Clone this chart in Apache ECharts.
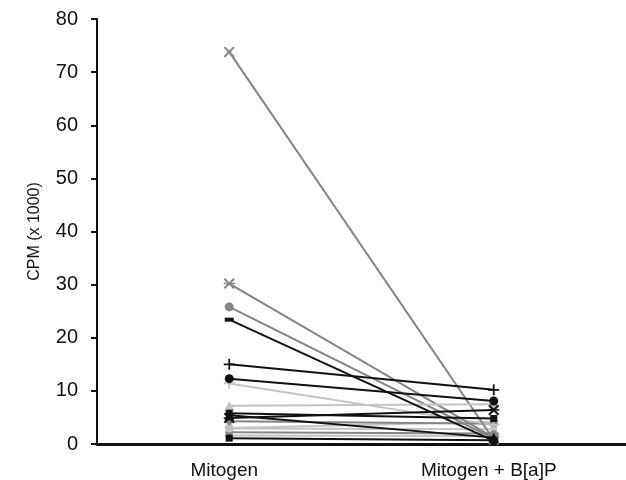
<!DOCTYPE html>
<html>
<head>
<meta charset="utf-8">
<script src="https://cdn.jsdelivr.net/npm/echarts@6/dist/echarts.min.js"></script>
<style>html,body{margin:0;padding:0;background:#fff}#c{width:626px;height:480px}</style>
</head>
<body>
<div id="c"></div>
<script>
// Categories and axis
const categories = ['Mitogen', 'Mitogen + B[a]P'];
const yMin = 0, yMax = 80, yStep = 10;
const yAxisName = 'CPM (x 1000)';

// Per-donor values [Mitogen, Mitogen + B[a]P]
const d01 = [1.6, 1.5];
const d02 = [2.9, 2.8];
const d03 = [3.0, 4.2];
const d04 = [11.4, 3.6];
const d05 = [7.2, 7.5];
const d06 = [2.2, 2.0];
const d07 = [4.3, 3.8];
const d08 = [73.8, 0.8];
const d09 = [30.2, 1.2];
const d10 = [25.8, 1.0];
const d11 = [1.1, 0.7];
const d12 = [5.4, 1.2];
const d13 = [5.8, 4.8];
const d14 = [4.9, 6.4];
const d15 = [12.3, 8.1];
const d16 = [15.0, 10.2];
const d17 = [23.4, 0.6];

const BLACK = '#111111', GRAY = '#858585', LIGHT = '#c3c3c3';
const PLUS = 'path://M4.2,0H5.8V4.2H10V5.8H5.8V10H4.2V5.8H0V4.2H4.2Z';
const XS = 'path://M0,1.3L1.3,0L5,3.7L8.7,0L10,1.3L6.3,5L10,8.7L8.7,10L5,6.3L1.3,10L0,8.7L3.7,5Z';
const AST = 'path://M0,1.3L1.3,0L5,3.7L8.7,0L10,1.3L6.3,5L10,8.7L8.7,10L5,6.3L1.3,10L0,8.7L3.7,5ZM0,4.3H10V5.7H0Z';
const DASH = 'path://M0,0H10V4H0Z';

const donors = [
  {v: d01, c: LIGHT, s: 'circle', z: 8},
  {v: d02, c: LIGHT, s: 'rect', z: 8},
  {v: d03, c: LIGHT, s: 'circle', z: 9},
  {v: d04, c: LIGHT, s: PLUS, z: 10},
  {v: d05, c: LIGHT, s: 'triangle', z: 11},
  {v: d06, c: GRAY, s: 'diamond', z: 8},
  {v: d07, c: GRAY, s: 'diamond', z: 9},
  {v: d08, c: GRAY, s: XS, z: 10},
  {v: d09, c: GRAY, s: AST, z: 10},
  {v: d10, c: GRAY, s: 'circle', z: 10},
  {v: d11, c: BLACK, s: 'rect', z: 12},
  {v: d12, c: BLACK, s: 'triangle', z: 12},
  {v: d13, c: BLACK, s: 'rect', z: 12},
  {v: d14, c: BLACK, s: AST, z: 12},
  {v: d15, c: BLACK, s: 'circle', z: 12},
  {v: d16, c: BLACK, s: PLUS, z: 12},
  {v: d17, c: BLACK, s: DASH, z: 12}
];

function symSize(s) {
  if (s === DASH) return [9, 4];
  if (s === 'triangle') return 10;
  if (s === 'circle') return 9;
  if (s === 'rect') return 7;
  if (s === 'diamond') return 9;
  return 11;
}

const chart = echarts.init(document.getElementById('c'), null, {renderer: 'canvas'});
chart.setOption({
  backgroundColor: '#ffffff',
  animation: false,
  grid: {left: 97, right: -3, top: 19, bottom: 36},
  xAxis: {
    type: 'category',
    data: categories,
    boundaryGap: true,
    axisLine: {lineStyle: {color: '#111', width: 3}},
    axisTick: {show: false},
    axisLabel: {color: '#111', fontFamily: 'Liberation Sans', fontSize: 19, margin: 17, padding: [0, 10, 0, 0]}
  },
  yAxis: {
    type: 'value',
    min: yMin, max: yMax, interval: yStep,
    name: yAxisName,
    nameLocation: 'middle',
    nameGap: 54,
    nameTextStyle: {color: '#111', fontFamily: 'Liberation Sans', fontSize: 16},
    axisLine: {show: true, lineStyle: {color: '#111', width: 2}},
    axisTick: {show: true, length: 6, lineStyle: {color: '#111', width: 2}},
    axisLabel: {color: '#111', fontFamily: 'Liberation Sans', fontSize: 20, margin: 19},
    splitLine: {show: false}
  },
  series: donors.map(function (d, i) {
    return {
      name: 'donor' + (i + 1),
      type: 'line',
      data: d.v,
      z: d.z,
      symbol: d.s,
      symbolSize: symSize(d.s),
      showSymbol: true,
      lineStyle: {color: d.c, width: 2},
      itemStyle: {color: d.c},
      emphasis: {disabled: true}
    };
  })
});
</script>
</body>
</html>
